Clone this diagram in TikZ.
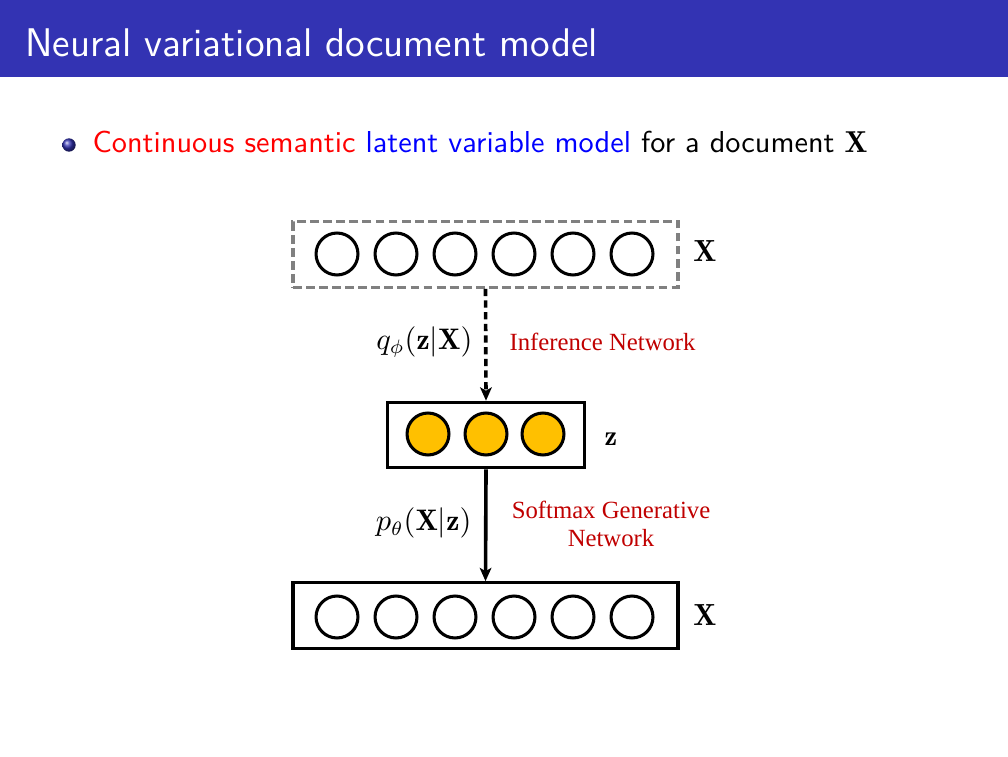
\documentclass[tikz,border=0pt]{standalone}
\usepackage{fontspec}
\newfontfamily\lserif{Liberation Serif}
\usetikzlibrary{arrows.meta}
\definecolor{barblue}{RGB}{51,51,179}
\definecolor{netred}{RGB}{192,0,0}
\definecolor{gold}{RGB}{255,192,0}
\definecolor{dashgray}{RGB}{128,128,128}
\tikzset{
  unit/.style={circle,draw=black,line width=1.1pt,minimum size=15.1pt,inner sep=0pt},
  latent/.style={unit,fill=gold},
  layerbox/.style={rectangle,draw=black,line width=1.1pt,inner sep=0pt,minimum height=23.6pt},
  dashbox/.style={layerbox,draw=dashgray,dash pattern=on 3.2pt off 1.5pt},
  netlabel/.style={font=\lserif\fontsize{8.9}{10}\selectfont,text=netred,inner sep=0pt},
  mathlabel/.style={font=\fontsize{10.7}{12}\selectfont,inner sep=0pt},
  varlabel/.style={font=\fontsize{11}{13}\selectfont,inner sep=0pt},
  conn/.style={line width=1.3pt,-{Stealth[length=4.8pt,width=4.2pt,inset=1.2pt]}},
}
\begin{document}
\begin{tikzpicture}[x=0.36pt,y=-0.36pt]
\useasboundingbox (0,0) rectangle (1008,756);
% title bar
\fill[barblue] (0,0) rectangle (1008,77);
\node[anchor=base west,inner sep=0pt,text=white,font=\sffamily\fontsize{14.4}{17}\selectfont] (title) at (25,57) {Neural variational document model};
% bullet
\node[circle,inner sep=0pt,minimum size=4.8pt,shading=ball,ball color=barblue] (bullet) at (69,145) {};
\node[anchor=base west,inner sep=0pt,font=\sffamily\fontsize{10.9}{13}\selectfont] (bodytext) at (92,153)
  {\textcolor{red}{Continuous semantic} \textcolor{blue}{latent variable model} for a document $\mathbf{X}$};
% top box (input)
\node[dashbox,minimum width=138.6pt] (topbox) at (485.5,254.5) {};
\foreach \i/\x in {1/337,2/396,3/455,4/514,5/573,6/632}
  \node[unit] (t\i) at (\x,254) {};
\node[varlabel] (xtop) at (705,251) {$\mathbf{X}$};
% latent box
\node[layerbox,minimum width=70.6pt] (zbox) at (486,435) {};
\foreach \i/\x in {1/428,2/486,3/543}
  \node[latent] (z\i) at (\x,434) {};
\node[varlabel,font=\fontsize{10.2}{12}\selectfont] (zlab) at (611,439) {$\mathbf{z}$};
% bottom box (output)
\node[layerbox,minimum width=138.6pt] (botbox) at (485.5,615.5) {};
\foreach \i/\x in {1/337,2/396,3/455,4/514,5/573,6/632}
  \node[unit] (b\i) at (\x,617) {};
\node[varlabel] (xbot) at (705,615) {$\mathbf{X}$};
% connectors
\draw[conn,dash pattern=on 2.6pt off 1.6pt] (topbox.south) -- (zbox.north);
\draw[conn] (zbox.south) -- (botbox.north);
% labels
\node[mathlabel,anchor=east] (qlab) at (473,342) {$q_\phi(\mathbf{z}|\mathbf{X})$};
\node[netlabel,anchor=west] (inf) at (509,342) {Inference Network};
\node[mathlabel,anchor=east] (plab) at (472,523) {$p_\theta(\mathbf{X}|\mathbf{z})$};
\node[netlabel,align=center] (gen) at (611,524) {Softmax Generative\\[0.3pt]Network};
\end{tikzpicture}
\end{document}
